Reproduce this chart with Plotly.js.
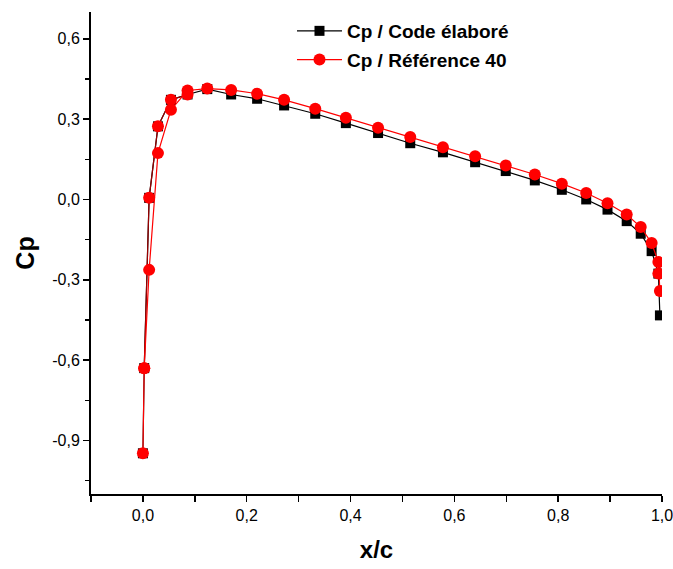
<!DOCTYPE html>
<html>
<head>
<meta charset="utf-8">
<script src="https://cdn.plot.ly/plotly-3.0.1.min.js"></script>
<style>html,body{margin:0;padding:0;background:#fff;}#chart{width:673px;height:569px;}</style>
</head>
<body>
<div id="chart"></div>
<script>
// x/c positions
const xc = [0.0,0.0025,0.012,0.029,0.054,0.086,0.124,0.170,0.220,0.272,0.332,0.391,0.453,0.515,0.578,0.640,0.699,0.755,0.807,0.854,0.895,0.932,0.959,0.980,0.993,0.996];
// Cp / Code élaboré
const cpCode = [-0.948,-0.630,0.006,0.273,0.372,0.392,0.412,0.392,0.376,0.351,0.320,0.285,0.248,0.210,0.176,0.139,0.106,0.071,0.036,0.000,-0.038,-0.081,-0.128,-0.193,-0.277,-0.433];
// Cp / Référence 40
const cpRef = [-0.948,-0.630,-0.263,0.173,0.335,0.407,0.414,0.409,0.395,0.372,0.339,0.305,0.268,0.233,0.195,0.161,0.127,0.093,0.059,0.024,-0.014,-0.056,-0.103,-0.163,-0.234,-0.342];
// red circles drawn over some black squares in the original
const overlayX = [0.0025,0.012,0.029,0.054,0.086,null,0.993];
const overlayY = [-0.630,0.006,0.273,0.372,0.392,null,-0.277];
// tick labels
const xTickVals = [0.0,0.2,0.4,0.6,0.8,1.0];
const xTickText = ['0,0','0,2','0,4','0,6','0,8','1,0'];
const yTickVals = [-0.9,-0.6,-0.3,0.0,0.3,0.6];
const yTickText = ['-0,9','-0,6','-0,3','0,0','0,3','0,6'];

const FONT = 'Liberation Sans, Arial, sans-serif';

const traces = [
  {x: xc, y: cpCode, mode: 'lines+markers', name: '<b>Cp / Code élaboré</b>',
   legendgroup: 'a',
   line: {color: '#000000', width: 1.2},
   marker: {symbol: 'square', size: 10, color: '#000000'}},
  {x: overlayX, y: overlayY, mode: 'lines+markers', showlegend: false, hoverinfo: 'skip',
   connectgaps: false,
   line: {color: '#9a0000', width: 1.2},
   marker: {symbol: 'circle', size: 12, color: '#ff0000'}},
  {x: xc, y: cpRef, mode: 'lines+markers', name: '<b>Cp / Référence 40</b>',
   legendgroup: 'b',
   line: {color: '#ff0000', width: 1.2},
   marker: {symbol: 'circle', size: 12, color: '#ff0000'}}
];

const layout = {
  width: 673, height: 569,
  margin: {l: 91, r: 11, t: 12, b: 75},
  paper_bgcolor: '#ffffff', plot_bgcolor: '#ffffff',
  font: {family: FONT, size: 16, color: '#000000'},
  showlegend: true,
  legend: {x: 0.352, y: 1.0, xanchor: 'left', yanchor: 'top',
           font: {family: FONT, size: 19, color: '#000000'},
           itemwidth: 45, traceorder: 'grouped', tracegroupgap: 1,
           borderwidth: 0, bgcolor: 'rgba(0,0,0,0)'},
  xaxis: {
    range: [-0.1, 1.0], showgrid: false, zeroline: false,
    showline: true, linecolor: '#000000', linewidth: 2, mirror: false,
    ticks: 'outside', ticklen: 6, tickwidth: 1.5, tickcolor: '#000000',
    tickmode: 'array', tickvals: xTickVals, ticktext: xTickText,
    ticklabeloverflow: 'allow',
    tickfont: {family: FONT, size: 16, color: '#000000'},
    minor: {tickmode: 'linear', tick0: 0.1, dtick: 0.2, ticks: 'outside', ticklen: 6, tickwidth: 1.5, tickcolor: '#000000', showgrid: false},
    title: {text: '<b>x/c</b>', font: {family: FONT, size: 24, color: '#000000'}, standoff: 18}
  },
  yaxis: {
    range: [-1.1, 0.7], showgrid: false, zeroline: false,
    showline: true, linecolor: '#000000', linewidth: 2, mirror: false,
    ticks: 'outside', ticklen: 6, tickwidth: 1.5, tickcolor: '#000000',
    tickmode: 'array', tickvals: yTickVals, ticktext: yTickText,
    tickfont: {family: FONT, size: 16, color: '#000000'},
    minor: {tickmode: 'linear', tick0: 0.15, dtick: 0.3, ticks: 'outside', ticklen: 4, tickwidth: 1.5, tickcolor: '#000000', showgrid: false},
    title: {text: '<b>Cp</b>', font: {family: FONT, size: 25, color: '#000000'}, standoff: 10}
  }
};

Plotly.newPlot('chart', traces, layout, {displayModeBar: false, staticPlot: true});
</script>
</body>
</html>
